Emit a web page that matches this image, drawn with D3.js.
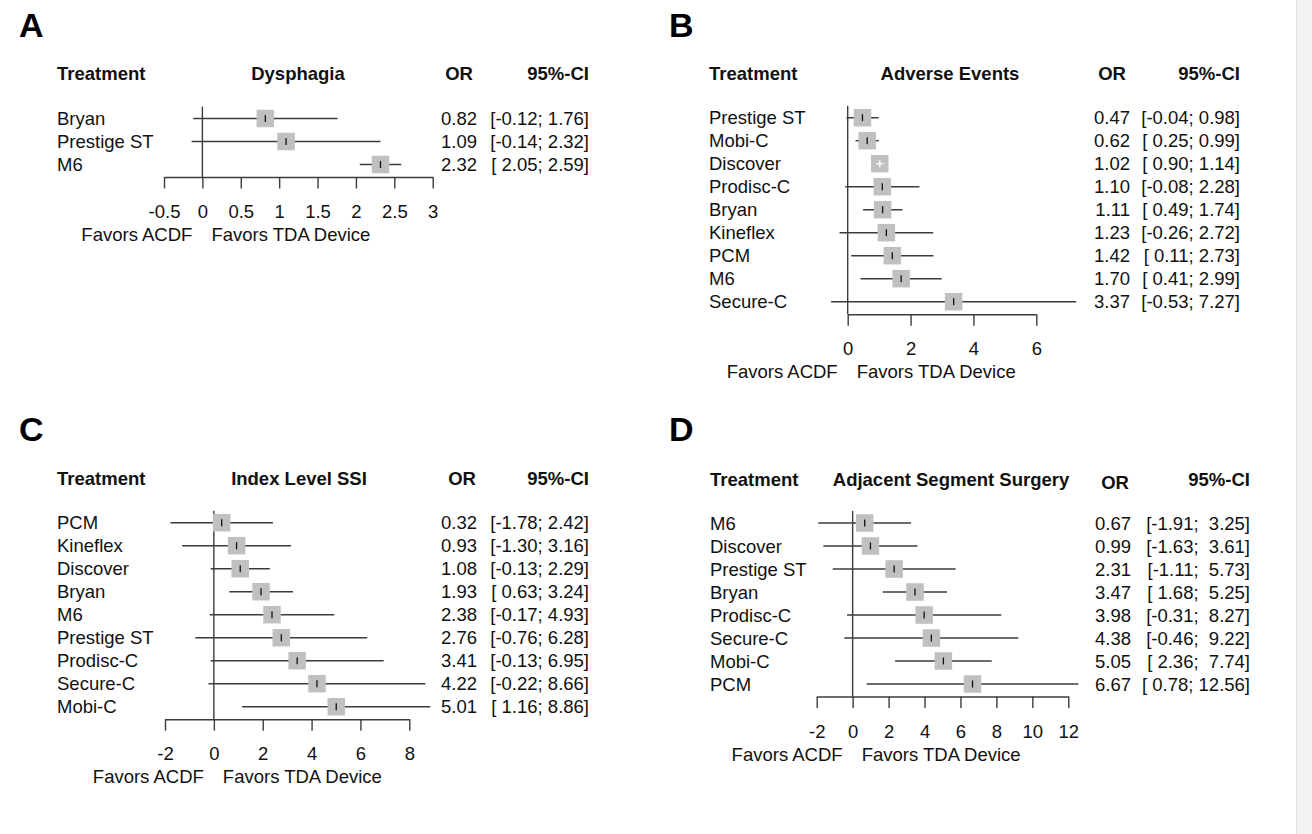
<!DOCTYPE html>
<html><head><meta charset="utf-8">
<script src="https://cdn.jsdelivr.net/npm/d3@7"></script>
<style>
body{margin:0;background:#fff}
svg text{font-family:"Liberation Sans",Arial,Helvetica,sans-serif;fill:#111}
</style>
</head><body>
<svg id="chart" width="1312" height="834"></svg>
<script>
// ---------- DATA ----------
// Panel A: Dysphagia
const dysphagiaTreatments = ["Bryan", "Prestige ST", "M6"];
const dysphagiaOR    = [0.82, 1.09, 2.32];
const dysphagiaLower = [-0.12, -0.14, 2.05];
const dysphagiaUpper = [1.76, 2.32, 2.59];
const dysphagiaTicks = [-0.5, 0, 0.5, 1, 1.5, 2, 2.5, 3];

// Panel B: Adverse Events
const adverseTreatments = ["Prestige ST", "Mobi-C", "Discover", "Prodisc-C", "Bryan", "Kineflex", "PCM", "M6", "Secure-C"];
const adverseOR    = [0.47, 0.62, 1.02, 1.10, 1.11, 1.23, 1.42, 1.70, 3.37];
const adverseLower = [-0.04, 0.25, 0.90, -0.08, 0.49, -0.26, 0.11, 0.41, -0.53];
const adverseUpper = [0.98, 0.99, 1.14, 2.28, 1.74, 2.72, 2.73, 2.99, 7.27];
const adverseTicks = [0, 2, 4, 6];

// Panel C: Index Level SSI
const ssiTreatments = ["PCM", "Kineflex", "Discover", "Bryan", "M6", "Prestige ST", "Prodisc-C", "Secure-C", "Mobi-C"];
const ssiOR    = [0.32, 0.93, 1.08, 1.93, 2.38, 2.76, 3.41, 4.22, 5.01];
const ssiLower = [-1.78, -1.30, -0.13, 0.63, -0.17, -0.76, -0.13, -0.22, 1.16];
const ssiUpper = [2.42, 3.16, 2.29, 3.24, 4.93, 6.28, 6.95, 8.66, 8.86];
const ssiTicks = [-2, 0, 2, 4, 6, 8];

// Panel D: Adjacent Segment Surgery
const assTreatments = ["M6", "Discover", "Prestige ST", "Bryan", "Prodisc-C", "Secure-C", "Mobi-C", "PCM"];
const assOR    = [0.67, 0.99, 2.31, 3.47, 3.98, 4.38, 5.05, 6.67];
const assLower = [-1.91, -1.63, -1.11, 1.68, -0.31, -0.46, 2.36, 0.78];
const assUpper = [3.25, 3.61, 5.73, 5.25, 8.27, 9.22, 7.74, 12.56];
const assTicks = [-2, 0, 2, 4, 6, 8, 10, 12];

const panelLetters = ["A", "B", "C", "D"];
const panelTitles = ["Dysphagia", "Adverse Events", "Index Level SSI", "Adjacent Segment Surgery"];
const headerTreatment = "Treatment";
const headerOR = "OR";
const headerCI = "95%-CI";
const labelLeft = "Favors ACDF";
const labelRight = "Favors TDA Device";

// ---------- LAYOUT ----------
const FS = 18.5;
const STEP = 23;
const layouts = [
  {letterX: 19, letterY: 37, labelX: 57, headerY: 73.5, orHeadDy: 0, row0: 118.5, range: [164, 432.7], titleX: 298, orHeadX: 459, orRight: 477, ciRight: 589},
  {letterX: 669, letterY: 37, labelX: 709, headerY: 73.5, orHeadDy: 0, row0: 117.7, range: [847.7, 1036.3], titleX: 950, orHeadX: 1112, orRight: 1130, ciRight: 1240},
  {letterX: 19, letterY: 441, labelX: 57, headerY: 478, orHeadDy: 0, row0: 522.7, range: [165, 409.3], titleX: 299, orHeadX: 462, orRight: 477, ciRight: 589},
  {letterX: 669, letterY: 441, labelX: 710, headerY: 479, orHeadDy: 3, row0: 523, range: [816.7, 1068.3], titleX: 951, orHeadX: 1115, orRight: 1131, ciRight: 1250}
];

const panelData = [
  {treat: dysphagiaTreatments, or: dysphagiaOR, lo: dysphagiaLower, hi: dysphagiaUpper, ticks: dysphagiaTicks},
  {treat: adverseTreatments, or: adverseOR, lo: adverseLower, hi: adverseUpper, ticks: adverseTicks},
  {treat: ssiTreatments, or: ssiOR, lo: ssiLower, hi: ssiUpper, ticks: ssiTicks},
  {treat: assTreatments, or: assOR, lo: assLower, hi: assUpper, ticks: assTicks}
];

const svg = d3.select("#chart");
svg.append("rect").attr("x", 1296).attr("y", 0).attr("width", 16).attr("height", 834).attr("fill", "#f3f3f3");
svg.append("line").attr("x1", 1296.5).attr("x2", 1296.5).attr("y1", 0).attr("y2", 834).attr("stroke", "#e4e4e4");

const capMid = 0.36 * FS; // baseline offset to visually centre caps
const LINE = "#3c3c3c";

function padLeft(strs) {
  const w = d3.max(strs, s => s.length);
  return strs.map(s => " ".repeat(w - s.length) + s);
}

function drawPanel(i) {
  const L = layouts[i], D = panelData[i];
  const g = svg.append("g");
  const n = D.treat.length;

  g.append("text").attr("x", L.letterX).attr("y", L.letterY)
    .style("font-size", "34px").style("font-weight", "bold").style("fill", "#000").text(panelLetters[i]);

  const hy = L.headerY + capMid;
  g.append("text").attr("x", L.labelX).attr("y", hy).style("font-size", FS + "px").style("font-weight", "bold").text(headerTreatment);
  g.append("text").attr("x", L.titleX).attr("y", hy).attr("text-anchor", "middle").style("font-size", FS + "px").style("font-weight", "bold").text(panelTitles[i]);
  g.append("text").attr("x", L.orHeadX).attr("y", hy + L.orHeadDy).attr("text-anchor", "middle").style("font-size", FS + "px").style("font-weight", "bold").text(headerOR);
  g.append("text").attr("x", L.ciRight).attr("y", hy).attr("text-anchor", "end").style("font-size", FS + "px").style("font-weight", "bold").text(headerCI);

  const x = d3.scaleLinear().domain([D.ticks[0], D.ticks[D.ticks.length - 1]]).range(L.range);
  const y = d3.scalePoint().domain(d3.range(n)).range([L.row0, L.row0 + STEP * (n - 1)]);
  const axisY = y(n - 1) + 12.5;

  // reference line at 0
  g.append("line").attr("x1", x(0)).attr("x2", x(0)).attr("y1", L.row0 - 12).attr("y2", axisY)
    .attr("stroke", LINE).attr("stroke-width", 1.4);

  // axis
  const axis = d3.axisBottom(x).tickValues(D.ticks).tickSize(11.5).tickSizeOuter(0).tickFormat(d => String(d));
  const ag = g.append("g").attr("transform", `translate(0,${axisY})`).call(axis);
  ag.select(".domain").attr("stroke", LINE).attr("stroke-width", 1.4);
  ag.selectAll(".tick line").attr("stroke", LINE).attr("stroke-width", 1.4);
  ag.selectAll(".tick text").attr("y", 34.5).attr("dy", "0.36em")
    .style("font-size", FS + "px").style("font-family", "'Liberation Sans',Arial,sans-serif").attr("fill", "#111");

  // favours labels
  const fy = axisY + 57.5 + capMid;
  g.append("text").attr("x", x(0) - 10).attr("y", fy).attr("text-anchor", "end").style("font-size", FS + "px").text(labelLeft);
  g.append("text").attr("x", x(0) + 9).attr("y", fy).attr("text-anchor", "start").style("font-size", FS + "px").text(labelRight);

  const box = 17.5;
  const loStr = padLeft(D.lo.map(v => v.toFixed(2)));
  const hiStr = padLeft(D.hi.map(v => v.toFixed(2)));

  d3.range(n).forEach(k => {
    const yc = y(k), xc = x(D.or[k]);
    const inside = x(D.lo[k]) >= xc - box / 2 && x(D.hi[k]) <= xc + box / 2;
    // CI line
    g.append("line").attr("x1", x(D.lo[k])).attr("x2", x(D.hi[k])).attr("y1", yc).attr("y2", yc)
      .attr("stroke", LINE).attr("stroke-width", 1.4);
    // box
    g.append("rect").attr("x", xc - box / 2).attr("y", yc - box / 2).attr("width", box).attr("height", box).attr("fill", "#c0c0c0");
    if (inside) {
      g.append("line").attr("x1", x(D.lo[k])).attr("x2", x(D.hi[k])).attr("y1", yc).attr("y2", yc)
        .attr("stroke", "#fff").attr("stroke-width", 1.3);
    }
    // point estimate tick
    g.append("line").attr("x1", xc).attr("x2", xc).attr("y1", yc - 3.5).attr("y2", yc + 3.5)
      .attr("stroke", inside ? "#fff" : "#111").attr("stroke-width", 1.3);

    const ty = yc + capMid;
    g.append("text").attr("x", L.labelX).attr("y", ty).style("font-size", FS + "px").text(D.treat[k]);
    g.append("text").attr("x", L.orRight).attr("y", ty).attr("text-anchor", "end").style("font-size", FS + "px").text(D.or[k].toFixed(2));
    g.append("text").attr("x", L.ciRight).attr("y", ty).attr("text-anchor", "end").style("font-size", FS + "px")
      .style("white-space", "pre").attr("xml:space", "preserve").text(`[${loStr[k]}; ${hiStr[k]}]`);
  });
}

[0, 1, 2, 3].forEach(drawPanel);
</script>
</body></html>
